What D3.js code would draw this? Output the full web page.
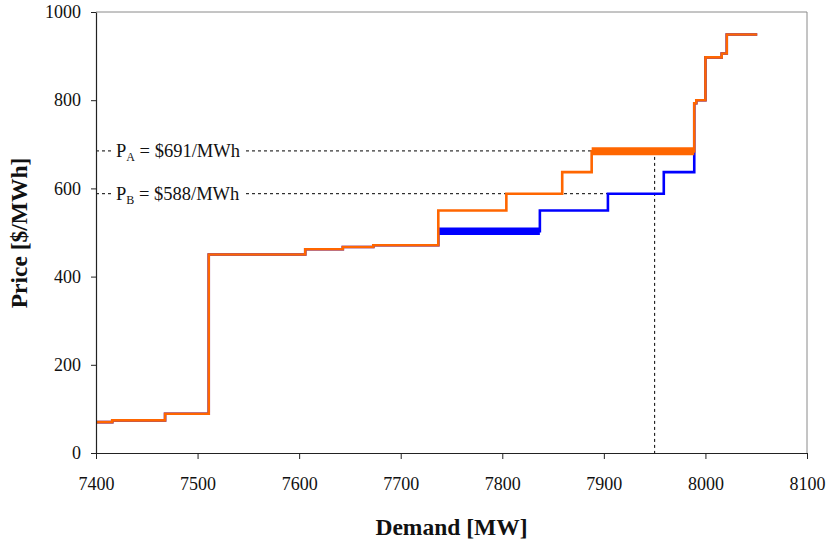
<!DOCTYPE html>
<html>
<head>
<meta charset="utf-8">
<script src="https://cdn.jsdelivr.net/npm/d3@7"></script>
<style>
  body { margin: 0; background: #fff; }
  svg { display: block; }
  svg text { font-family: "Liberation Serif", "DejaVu Serif", serif; }
</style>
</head>
<body>
<svg id="chart" width="828" height="544"></svg>
<script>
// step curves, [MW, $/MWh], each step holds until the next point
const commonLow = [[7400, 70], [7416, 74], [7468, 89], [7511, 450], [7606, 462], [7643, 467], [7673, 471]];
const stepsA = [[7737, 550], [7804, 588], [7859, 637], [7888, 684]];
const stepsB = [[7737, 503], [7837, 550], [7904, 588], [7959, 637]];
const commonHigh = [[7989, 793], [7991, 800], [8000, 897], [8016, 906], [8021, 949], [8051, 949]];

// the highlighted (marginal) blocks
const blockA = [[7888, 684], [7989, 684]];
const blockB = [[7737, 503], [7837, 503]];

const priceA = 685, priceB = 588, demandCut = 7950;
const labelA = ["P", "A", " = $691/MWh"];
const labelB = ["P", "B", " = $588/MWh"];

const xTicks = [7400, 7500, 7600, 7700, 7800, 7900, 8000, 8100];
const yTicks = [0, 200, 400, 600, 800, 1000];

const svg = d3.select("#chart");
const margin = { top: 12, right: 21, bottom: 91, left: 96 };
const width = +svg.attr("width");
const height = +svg.attr("height");

const x = d3.scaleLinear().domain([7400, 8100]).range([margin.left, width - margin.right]);
const y = d3.scaleLinear().domain([0, 1000]).range([height - margin.bottom, margin.top]);

// plot border (top + right)
svg.append("path")
  .attr("d", `M${x(7400)},${y(1000)}H${x(8100)}V${y(0)}`)
  .attr("fill", "none")
  .attr("stroke", "#8a8a8a")
  .attr("stroke-width", 1);

const line = d3.line()
  .x(d => x(d[0]))
  .y(d => y(d[1]))
  .curve(d3.curveStepAfter);

// dashed guides
const guides = svg.append("g")
  .attr("stroke", "#000")
  .attr("stroke-width", 1)
  .attr("stroke-dasharray", "3,3")
  .attr("fill", "none");

guides.append("line")
  .attr("x1", x(7400)).attr("x2", x(demandCut))
  .attr("y1", y(priceA)).attr("y2", y(priceA));
guides.append("line")
  .attr("x1", x(7400)).attr("x2", x(demandCut))
  .attr("y1", y(priceB)).attr("y2", y(priceB));
guides.append("line")
  .attr("x1", x(demandCut)).attr("x2", x(demandCut))
  .attr("y1", y(priceA)).attr("y2", y(0));

// labels on the guides, with white backing to break the dashes
[[labelA, priceA], [labelB, priceB]].forEach(([lab, p]) => {
  const g = svg.append("g");
  const t = g.append("text")
    .attr("x", 116)
    .attr("y", y(p) + 6)
    .style("font-size", "18.5px")
    .attr("fill", "#111");
  t.append("tspan").text(lab[0]);
  t.append("tspan").style("font-size", "12px").attr("dy", 4).text(lab[1]);
  t.append("tspan").attr("dy", -4).text(lab[2]);
  const bb = t.node().getBBox();
  g.insert("rect", "text")
    .attr("x", bb.x - 3)
    .attr("y", y(p) - 3)
    .attr("width", bb.width + 9)
    .attr("height", 6)
    .attr("fill", "#fff");
});

// series B (blue) under series A (orange)
const seriesB = commonLow.concat(stepsB, commonHigh);
const seriesA = commonLow.concat(stepsA, commonHigh);

svg.append("path")
  .datum(seriesB)
  .attr("d", line)
  .attr("fill", "none")
  .attr("stroke", "#0000ff")
  .attr("stroke-width", 2.6);

svg.append("path")
  .datum(blockB)
  .attr("d", d3.line().x(d => x(d[0])).y(d => y(d[1])))
  .attr("stroke", "#0000ff")
  .attr("stroke-width", 7.5);

svg.append("path")
  .datum(seriesA)
  .attr("d", line)
  .attr("fill", "none")
  .attr("stroke", "#ff6600")
  .attr("stroke-width", 2.6);

svg.append("path")
  .datum(blockA)
  .attr("d", d3.line().x(d => x(d[0])).y(d => y(d[1])))
  .attr("stroke", "#ff6600")
  .attr("stroke-width", 8);

// axes
const xAxis = svg.append("g")
  .attr("transform", `translate(0,${y(0)})`)
  .call(d3.axisBottom(x).tickValues(xTicks).tickFormat(d3.format("d")).tickSize(6).tickSizeOuter(0).tickPadding(18));

const yAxis = svg.append("g")
  .attr("transform", `translate(${x(7400)},0)`)
  .call(d3.axisLeft(y).tickValues(yTicks).tickFormat(d3.format("d")).tickSize(5).tickSizeOuter(0).tickPadding(10));

[xAxis, yAxis].forEach(a => {
  a.attr("font-family", null).attr("font-size", null);
  a.select(".domain").attr("stroke", "#222").attr("stroke-width", 1.2);
  a.selectAll(".tick line").attr("stroke", "#222");
  a.selectAll(".tick text")
    .style("font-size", "18px")
    .attr("fill", "#111");
});

// axis titles
svg.append("text")
  .attr("x", (x(7400) + x(8100)) / 2)
  .attr("y", 535)
  .attr("text-anchor", "middle")
  .style("font-size", "23.5px")
  .attr("font-weight", "bold")
  .attr("fill", "#111")
  .text("Demand [MW]");

svg.append("text")
  .attr("transform", "translate(27,233) rotate(-90)")
  .attr("text-anchor", "middle")
  .style("font-size", "23.5px")
  .attr("font-weight", "bold")
  .attr("fill", "#111")
  .text("Price [$/MWh]");
</script>
</body>
</html>
